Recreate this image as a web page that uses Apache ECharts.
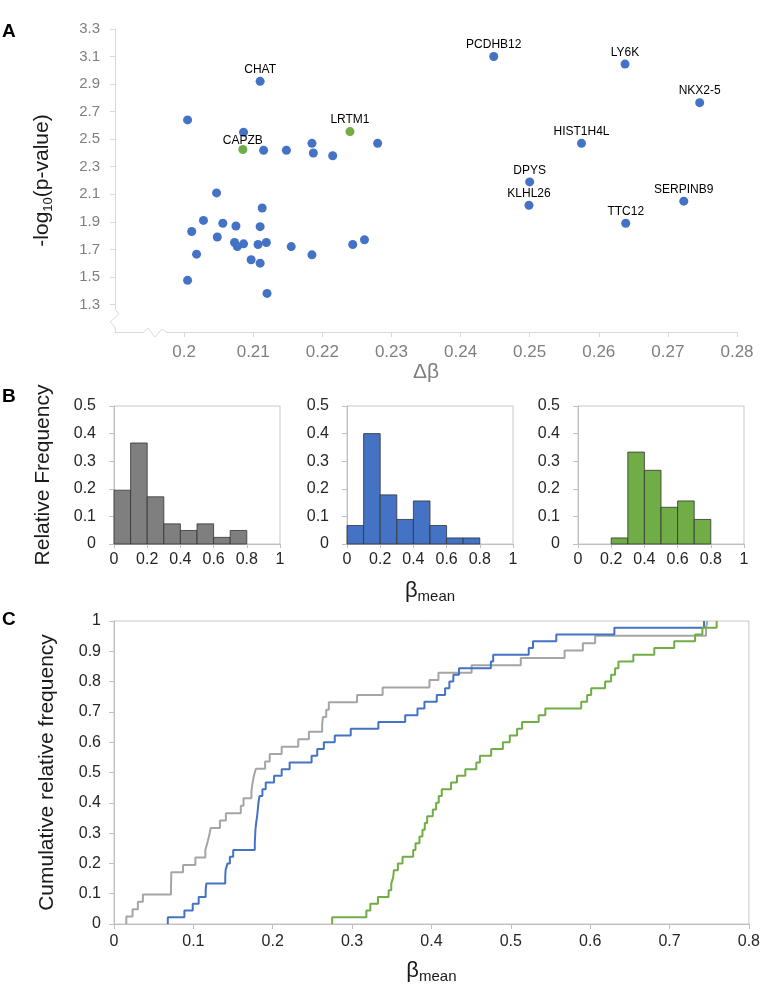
<!DOCTYPE html>
<html>
<head>
<meta charset="utf-8">
<script src="https://cdn.jsdelivr.net/npm/echarts@6/dist/echarts.min.js"></script>
<style>
html, body { margin: 0; padding: 0; background: #fff; }
#chart { width: 763px; height: 985px; }
</style>
</head>
<body>
<div id="chart"></div>
<script>
// --- Panel A: delta beta vs -log10(p) for each gene ---
const dotDelta = [0.2110, 0.2005, 0.2086, 0.2085, 0.2115, 0.2148, 0.2185, 0.2187, 0.2215, 0.2240,
    0.2280, 0.2047, 0.2113, 0.2028, 0.2056, 0.2011, 0.2075, 0.2110, 0.2048, 0.2073,
    0.2077, 0.2086, 0.2107, 0.2119, 0.2155, 0.2185, 0.2244, 0.2261, 0.2018, 0.2097,
    0.2110, 0.2005, 0.2120, 0.2448, 0.2638, 0.2746, 0.2575, 0.2500, 0.2499, 0.2723, 0.2639];
const dotLogP = [2.92, 2.64, 2.55, 2.425, 2.42, 2.42, 2.47, 2.40, 2.38, 2.555,
    2.47, 2.11, 2.00, 1.91, 1.89, 1.83, 1.87, 1.865, 1.79, 1.75,
    1.72, 1.74, 1.735, 1.75, 1.72, 1.66, 1.735, 1.77, 1.665, 1.625,
    1.60, 1.475, 1.38, 3.10, 3.045, 2.765, 2.47, 2.19, 2.02, 2.05, 1.89];
const dotGene = ['CHAT', '', '', 'CAPZB', '', '', '', '', '', 'LRTM1',
    '', '', '', '', '', '', '', '', '', '',
    '', '', '', '', '', '', '', '', '', '',
    '', '', '', 'PCDHB12', 'LY6K', 'NKX2-5', 'HIST1H4L', 'DPYS', 'KLHL26', 'SERPINB9', 'TTC12'];
const greenGenes = ['CAPZB', 'LRTM1'];
const deltaTicks = [0.2, 0.21, 0.22, 0.23, 0.24, 0.25, 0.26, 0.27, 0.28];
const logPTicks = [1.3, 1.5, 1.7, 1.9, 2.1, 2.3, 2.5, 2.7, 2.9, 3.1, 3.3];

// --- Panel B: histograms of beta mean (relative frequency per 0.1 bin) ---
const binEdges = [0, 0.1, 0.2, 0.3, 0.4, 0.5, 0.6, 0.7, 0.8, 0.9, 1.0];
const freqGray = [0.195, 0.366, 0.171, 0.073, 0.049, 0.073, 0.024, 0.049, 0, 0];
const freqBlue = [0.067, 0.400, 0.178, 0.089, 0.156, 0.067, 0.022, 0.022, 0, 0];
const freqGreen = [0, 0, 0.022, 0.333, 0.267, 0.133, 0.156, 0.089, 0, 0];

// --- Panel C: sorted beta means (cumulative steps) ---
const grayBeta = [0.0155, 0.0234, 0.0301, 0.0364, 0.0718, 0.0720, 0.0722, 0.0870, 0.1025, 0.1151,
    0.1176, 0.1201, 0.1218, 0.1335, 0.1410, 0.1598, 0.1632, 0.1732, 0.1745, 0.1762,
    0.1787, 0.1904, 0.1962, 0.2113, 0.2322, 0.2456, 0.2623, 0.2632, 0.2674, 0.2707,
    0.3063, 0.3385, 0.3975, 0.4088, 0.4506, 0.5126, 0.5678, 0.5908, 0.6063, 0.7460, 0.7477];
const blueBeta = [0.0678, 0.0887, 0.0992, 0.1067, 0.1155, 0.1163, 0.1402, 0.1406, 0.1431, 0.1460,
    0.1502, 0.1774, 0.1778, 0.1782, 0.1791, 0.1803, 0.1812, 0.1820, 0.1833, 0.1870,
    0.1912, 0.2017, 0.2113, 0.2213, 0.2490, 0.2561, 0.2644, 0.2782, 0.2983, 0.3331,
    0.3669, 0.3824, 0.3912, 0.4067, 0.4172, 0.4226, 0.4276, 0.4347, 0.4749, 0.4778,
    0.5226, 0.5280, 0.5573, 0.6305, 0.7435];
const greenBeta = [0.2749, 0.3180, 0.3230, 0.3326, 0.3460, 0.3494, 0.3519, 0.3527, 0.3577, 0.3636,
    0.3770, 0.3799, 0.3849, 0.3887, 0.3916, 0.3946, 0.4017, 0.4059, 0.4092, 0.4130,
    0.4247, 0.4322, 0.4427, 0.4565, 0.4611, 0.4753, 0.4900, 0.4987, 0.5079, 0.5142,
    0.5351, 0.5435, 0.5887, 0.5962, 0.6013, 0.6188, 0.6264, 0.6314, 0.6356, 0.6544,
    0.6808, 0.7059, 0.7322, 0.7414, 0.7594];

const BLUE = '#4472c4';
const GREEN = '#70ad47';
const GRAY_BAR = '#7f7f7f';
const GRAY_LINE = '#a5a5a5';
const NARROW = "'Liberation Sans Narrow', 'Arial Narrow', 'Liberation Sans', sans-serif";

function scatterData(green) {
    const out = [];
    dotDelta.forEach(function (d, i) {
        const isGreen = greenGenes.indexOf(dotGene[i]) >= 0;
        if (isGreen !== green) return;
        // CAPZB sits right under another dot, its label hugs the point
        const label = { show: dotGene[i] !== '' };
        if (dotGene[i] === 'CAPZB') label.distance = -2;
        out.push({ name: dotGene[i], value: [d, dotLogP[i]], label: label });
    });
    return out;
}

function histData(freq) {
    return freq.map(function (f, i) { return [binEdges[i], binEdges[i + 1], f]; });
}

function ecdfSteps(values) {
    const n = values.length;
    const pts = [[values[0], 0]];
    values.forEach(function (v, i) { pts.push([v, (i + 1) / n]); });
    return pts;
}

function renderBin(params, api) {
    const h = api.value(2);
    if (!h) return null;
    const p0 = api.coord([api.value(0), h]);
    const p1 = api.coord([api.value(1), 0]);
    return {
        type: 'rect',
        shape: { x: p0[0], y: p0[1], width: p1[0] - p0[0], height: p1[1] - p0[1] },
        style: { fill: api.visual('color'), stroke: '#333', lineWidth: 0.8 }
    };
}

const histLefts = [114, 347, 578];
const histColors = [GRAY_BAR, BLUE, GREEN];
const histFreqs = [freqGray, freqBlue, freqGreen];

const grids = [
    { left: 115, top: 29, width: 622, height: 303 },
    { left: histLefts[0], top: 406, width: 166, height: 138, show: true, borderColor: '#c8c8c8', borderWidth: 1 },
    { left: histLefts[1], top: 406, width: 166, height: 138, show: true, borderColor: '#c8c8c8', borderWidth: 1 },
    { left: histLefts[2], top: 406, width: 166, height: 138, show: true, borderColor: '#c8c8c8', borderWidth: 1 },
    { left: 114, top: 621, width: 638, height: 307, show: true, borderColor: '#c8c8c8', borderWidth: 1 }
];

const betaName = '{b|β}{s|mean}';
const betaRich = {
    b: { fontSize: 22, color: '#1a1a1a', fontFamily: 'Liberation Sans', lineHeight: 26 },
    s: { fontSize: 15, color: '#1a1a1a', fontFamily: 'Liberation Sans', verticalAlign: 'bottom', lineHeight: 20 }
};

const xAxes = [{
    gridIndex: 0, type: 'value', min: 0.19, max: 0.28,
    name: 'Δβ', nameLocation: 'middle', nameGap: 30,
    nameTextStyle: { fontSize: 21, color: '#7f7f7f', fontFamily: 'Liberation Sans' },
    axisLine: { lineStyle: { color: '#d9d9d9' } },
    axisTick: { customValues: deltaTicks, length: 5, lineStyle: { color: '#d9d9d9' } },
    axisLabel: { customValues: deltaTicks, color: '#7f7f7f', fontSize: 17, margin: 12, fontFamily: NARROW },
    splitLine: { show: false }
}];
const yAxes = [{
    gridIndex: 0, type: 'value', min: 1.1, max: 3.3,
    name: '{t|-log}{s|10}{t|(p-value)}', nameLocation: 'middle', nameGap: 60,
    nameTextStyle: {
        rich: {
            t: { fontSize: 21, color: '#1a1a1a', fontFamily: 'Liberation Sans', lineHeight: 26 },
            s: { fontSize: 13, color: '#1a1a1a', fontFamily: 'Liberation Sans', verticalAlign: 'bottom', lineHeight: 18 }
        }
    },
    axisLine: { lineStyle: { color: '#d9d9d9' } },
    axisTick: { customValues: logPTicks, length: 5, lineStyle: { color: '#d9d9d9' } },
    axisLabel: { customValues: logPTicks, color: '#7f7f7f', fontSize: 15, margin: 15, fontFamily: 'Liberation Sans' },
    splitLine: { show: false }
}];

histLefts.forEach(function (l, i) {
    xAxes.push({
        gridIndex: i + 1, type: 'value', min: 0, max: 1, interval: 0.2,
        name: i === 1 ? betaName : '', nameLocation: 'middle', nameGap: 34,
        nameTextStyle: { rich: betaRich },
        axisLine: { lineStyle: { color: '#bfbfbf' } },
        axisTick: { length: 4, lineStyle: { color: '#bfbfbf' } },
        axisLabel: { color: '#262626', fontSize: 16, margin: 8, fontFamily: NARROW },
        splitLine: { show: false }
    });
    yAxes.push({
        gridIndex: i + 1, type: 'value', min: 0, max: 0.5, interval: 0.1,
        name: i === 0 ? 'Relative Frequency' : '', nameLocation: 'middle', nameGap: 60,
        nameTextStyle: { fontSize: 21, color: '#1a1a1a', fontFamily: 'Liberation Sans' },
        axisLine: { lineStyle: { color: '#bfbfbf' } },
        axisTick: { length: 5, lineStyle: { color: '#bfbfbf' } },
        axisLabel: { color: '#262626', fontSize: 16, margin: 18, fontFamily: NARROW },
        splitLine: { show: false }
    });
});

xAxes.push({
    gridIndex: 4, type: 'value', min: 0, max: 0.8, interval: 0.1,
    name: betaName, nameLocation: 'middle', nameGap: 34,
    nameTextStyle: { rich: betaRich },
    axisLine: { lineStyle: { color: '#bfbfbf' } },
    axisTick: { length: 5, lineStyle: { color: '#bfbfbf' } },
    axisLabel: { color: '#262626', fontSize: 16, margin: 10, fontFamily: 'Liberation Sans' },
    splitLine: { show: false }
}, {
    gridIndex: 4, type: 'value', min: 0, max: 0.8, interval: 0.1,
    axisLine: { show: false }, axisLabel: { show: false },
    axisTick: { inside: true, length: 5, lineStyle: { color: '#bfbfbf' } },
    splitLine: { show: false }
});
yAxes.push({
    gridIndex: 4, type: 'value', min: 0, max: 1, interval: 0.1,
    name: 'Cumulative relative frequency', nameLocation: 'middle', nameGap: 56,
    nameTextStyle: { fontSize: 21, color: '#1a1a1a', fontFamily: 'Liberation Sans' },
    axisLine: { lineStyle: { color: '#bfbfbf' } },
    axisTick: { length: 5, lineStyle: { color: '#bfbfbf' } },
    axisLabel: { color: '#262626', fontSize: 16, margin: 13, fontFamily: 'Liberation Sans' },
    splitLine: { show: false }
}, {
    gridIndex: 4, type: 'value', min: 0, max: 1, interval: 0.1,
    axisLine: { show: false }, axisLabel: { show: false },
    axisTick: { inside: true, length: 5, lineStyle: { color: '#bfbfbf' } },
    splitLine: { show: false }
});

const dotLabel = { position: 'top', distance: 1, fontSize: 12, color: '#000', fontFamily: 'Liberation Sans', formatter: '{b}' };

const series = [
    { type: 'scatter', xAxisIndex: 0, yAxisIndex: 0, symbolSize: 9, itemStyle: { color: BLUE, opacity: 1 }, label: dotLabel, data: scatterData(false) },
    { type: 'scatter', xAxisIndex: 0, yAxisIndex: 0, symbolSize: 9, itemStyle: { color: GREEN, opacity: 1 }, label: dotLabel, data: scatterData(true) }
];
histFreqs.forEach(function (f, i) {
    series.push({
        type: 'custom', xAxisIndex: i + 1, yAxisIndex: i + 1,
        renderItem: renderBin, itemStyle: { color: histColors[i] },
        encode: { x: [0, 1], y: 2 }, data: histData(f)
    });
});
[[grayBeta, GRAY_LINE], [blueBeta, BLUE], [greenBeta, GREEN]].forEach(function (s) {
    series.push({
        type: 'line', xAxisIndex: 4, yAxisIndex: 4, step: 'end', showSymbol: false,
        lineStyle: { color: s[1], width: 2 }, data: ecdfSteps(s[0])
    });
});

const panelLetter = function (t, x, y) {
    return { type: 'text', left: x, top: y, z: 100, style: { text: t, font: 'bold 19px Liberation Sans', fill: '#000' } };
};

const chart = echarts.init(document.getElementById('chart'));
chart.setOption({
    animation: false,
    backgroundColor: '#fff',
    grid: grids,
    xAxis: xAxes,
    yAxis: yAxes,
    series: series,
    graphic: [
        panelLetter('A', 2, 22),
        panelLetter('B', 2, 387),
        panelLetter('C', 2, 610),
        // axis break marks on panel A
        { type: 'rect', z: 100, shape: { x: 110, y: 309, width: 10, height: 20 }, style: { fill: '#fff' } },
        { type: 'polyline', z: 101, shape: { points: [[115, 309], [119, 314], [110, 322], [115, 327], [115, 330]] }, style: { stroke: '#d9d9d9', lineWidth: 1, fill: null } },
        { type: 'rect', z: 100, shape: { x: 144, y: 328, width: 22, height: 8 }, style: { fill: '#fff' } },
        { type: 'polyline', z: 101, shape: { points: [[144, 332], [148, 328], [155, 337], [162, 329], [166, 332]] }, style: { stroke: '#d9d9d9', lineWidth: 1, fill: null } }
    ]
});
</script>
</body>
</html>
